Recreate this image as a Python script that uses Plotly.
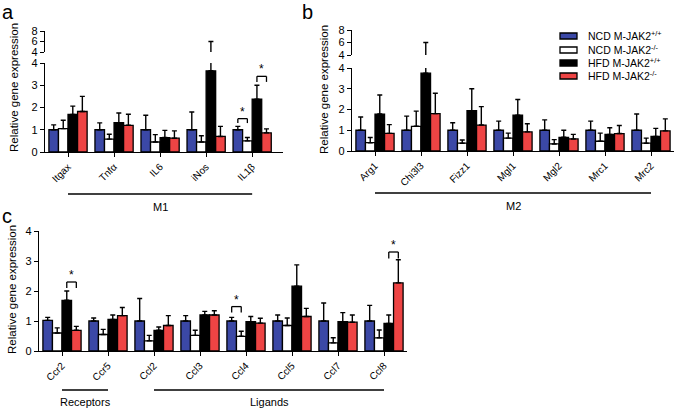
import plotly.graph_objects as go

W, H = 675, 408
FONT = "Liberation Sans, Arial, Helvetica, sans-serif"

series_names = ["NCD M-JAK2<sup>+/+</sup>", "NCD M-JAK2<sup>-/-</sup>",
                "HFD M-JAK2<sup>+/+</sup>", "HFD M-JAK2<sup>-/-</sup>"]
series_colors = ["#3b48a6", "#ffffff", "#000000", "#ee4444"]

# Panel a (M1)
a_cats = ["Itgax", "Tnfα", "IL6", "iNos", "IL1β"]
a_ncd_wt = [1.0, 1.0, 1.0, 1.0, 1.0]
a_ncd_wt_sem = [0.22, 0.31, 0.65, 0.8, 0.15]
a_ncd_ko = [1.05, 0.58, 0.45, 0.45, 0.5]
a_ncd_ko_sem = [0.38, 0.22, 0.33, 0.28, 0.15]
a_hfd_wt = [1.69, 1.32, 0.65, 3.65, 2.37]
a_hfd_wt_sem = [0.37, 0.43, 0.32, 2.35, 0.63]
a_hfd_ko = [1.82, 1.2, 0.62, 0.7, 0.86]
a_hfd_ko_sem = [0.68, 0.5, 0.33, 0.45, 0.18]

# Panel b (M2)
b_cats = ["Arg1", "Chi3l3", "Fizz1", "Mgl1", "Mgl2", "Mrc1", "Mrc2"]
b_ncd_wt = [1.0, 1.0, 1.0, 1.0, 1.0, 1.0, 1.0]
b_ncd_wt_sem = [0.64, 0.68, 0.36, 0.44, 0.5, 0.44, 0.78]
b_ncd_ko = [0.4, 1.19, 0.375, 0.62, 0.34, 0.47, 0.375]
b_ncd_ko_sem = [0.25, 0.73, 0.155, 0.24, 0.21, 0.39, 0.245]
b_hfd_wt = [1.78, 3.75, 1.94, 1.73, 0.66, 0.8, 0.7]
b_hfd_wt_sem = [0.92, 2.25, 1.06, 0.75, 0.34, 0.32, 0.39]
b_hfd_ko = [0.85, 1.8, 1.25, 0.92, 0.58, 0.84, 0.97]
b_hfd_ko_sem = [0.42, 0.98, 0.89, 0.39, 0.22, 0.39, 0.58]

# Panel c (chemokines)
c_cats = ["Ccr2", "Ccr5", "Ccl2", "Ccl3", "Ccl4", "Ccl5", "Ccl7", "Ccl8"]
c_ncd_wt = [1.02, 1.0, 1.0, 1.0, 1.0, 1.0, 1.0, 1.0]
c_ncd_wt_sem = [0.1, 0.1, 0.75, 0.18, 0.12, 0.2, 0.6, 0.52]
c_ncd_ko = [0.6, 0.55, 0.34, 0.52, 0.49, 0.85, 0.27, 0.44]
c_ncd_ko_sem = [0.17, 0.17, 0.18, 0.17, 0.17, 0.25, 0.17, 0.26]
c_hfd_wt = [1.69, 1.05, 0.69, 1.2, 0.98, 2.16, 0.98, 0.92]
c_hfd_wt_sem = [0.31, 0.15, 0.11, 0.12, 0.17, 0.71, 0.3, 0.28]
c_hfd_ko = [0.69, 1.18, 0.85, 1.2, 0.93, 1.15, 0.96, 2.27]
c_hfd_ko_sem = [0.13, 0.27, 0.33, 0.14, 0.16, 0.27, 0.24, 0.77]

# significance brackets: (category index, series i, series j, top, leg bottom)
a_sig = [(4, 0, 1, 1.5, 1.3), (4, 2, 3, 3.4, 3.15)]
c_sig = [(0, 2, 3, 2.3, 2.1), (4, 0, 1, 1.48, 1.28), (7, 2, 3, 3.3, 3.08)]

# group labels: (text, first index, last index)
a_groups = [("M1", 0, 4)]
b_groups = [("M2", 0, 6)]
c_groups = [("Receptors", 0, 1), ("Ligands", 2, 7)]

BARGAP = 0.17


def px_x(p):
    return p / W


def px_y(p):
    return 1 - p / H


fig = go.Figure()
shapes = []
annotations = []


def add_bars(vals, sems, cats, xa, ya):
    for k in range(4):
        fig.add_trace(go.Bar(
            x=list(range(len(cats))), y=vals[k], name=series_names[k],
            marker=dict(color=series_colors[k], line=dict(color="black", width=1.3)),
            error_y=dict(type="data", symmetric=False, array=sems[k],
                         arrayminus=[0] * len(cats), color="black",
                         thickness=1.4, width=2.5),
            xaxis=xa, yaxis=ya, showlegend=False, hoverinfo="skip"))


def yaxis_style(rng, tickvals, dom, anchor):
    return dict(domain=dom, range=rng, tickvals=tickvals, showline=True,
                linecolor="black", linewidth=1.2, ticks="outside", ticklen=4,
                tickwidth=1.2, tickcolor="black", showgrid=False, zeroline=False,
                anchor=anchor, automargin=False, fixedrange=True,
                tickfont=dict(size=11, color="black", family=FONT))


def xaxis_style(cats, dom, anchor, right_pad=0.5, labels=True):
    n = len(cats)
    return dict(domain=dom, range=[-0.5, n - 1 + right_pad],
                tickvals=list(range(n)) if labels else [],
                ticktext=cats if labels else [], tickangle=-45,
                showline=labels, linecolor="black",
                linewidth=1.2, ticks="outside" if labels else "", ticklen=4,
                tickwidth=1.2, tickcolor="black", showgrid=False, zeroline=False,
                showticklabels=labels, anchor=anchor, automargin=False,
                fixedrange=True,
                tickfont=dict(size=10, color="black", family=FONT))


def text_ann(x, y, text, size, xref="paper", yref="paper", **kw):
    d = dict(x=x, y=y, xref=xref, yref=yref, text=text, showarrow=False,
             xanchor="center", yanchor="middle",
             font=dict(size=size, color="black", family=FONT))
    d.update(kw)
    annotations.append(d)


def add_sig(sigs, xref, yref):
    w = (1 - BARGAP) / 4
    for ci, i, j, top, leg in sigs:
        x1 = ci + (i - 1.5) * w
        x2 = ci + (j - 1.5) * w
        for (xa, ya, xb, yb) in [(x1, leg, x1, top), (x1, top, x2, top), (x2, top, x2, leg)]:
            shapes.append(dict(type="line", xref=xref, yref=yref, x0=xa, y0=ya,
                               x1=xb, y1=yb, line=dict(color="black", width=1.3)))
        text_ann((x1 + x2) / 2, top, "*", 12, xref=xref, yref=yref,
                 yanchor="bottom", yshift=-2)


def add_groups(groups, xref, line_py, text_py):
    for text, i0, i1 in groups:
        shapes.append(dict(type="line", xref=xref, yref="paper", x0=i0, x1=i1,
                           y0=px_y(line_py), y1=px_y(line_py),
                           line=dict(color="black", width=1.3)))
        text_ann((i0 + i1) / 2, px_y(text_py), text, 11, xref=xref)


a_vals = [a_ncd_wt, a_ncd_ko, a_hfd_wt, a_hfd_ko]
a_sems = [a_ncd_wt_sem, a_ncd_ko_sem, a_hfd_wt_sem, a_hfd_ko_sem]
add_bars(a_vals, a_sems, a_cats, "x", "y")
add_bars(a_vals, a_sems, a_cats, "x2", "y2")
b_vals = [b_ncd_wt, b_ncd_ko, b_hfd_wt, b_hfd_ko]
b_sems = [b_ncd_wt_sem, b_ncd_ko_sem, b_hfd_wt_sem, b_hfd_ko_sem]
add_bars(b_vals, b_sems, b_cats, "x3", "y3")
add_bars(b_vals, b_sems, b_cats, "x4", "y4")
c_vals = [c_ncd_wt, c_ncd_ko, c_hfd_wt, c_hfd_ko]
c_sems = [c_ncd_wt_sem, c_ncd_ko_sem, c_hfd_wt_sem, c_hfd_ko_sem]
add_bars(c_vals, c_sems, c_cats, "x5", "y5")

a_xdom = [px_x(45), px_x(283)]
b_xdom = [px_x(352), px_x(674)]
c_xdom = [px_x(39), px_x(407)]

add_sig(a_sig, "x", "y")
add_sig(c_sig, "x5", "y5")
add_groups(a_groups, "x", 194, 207)
add_groups(b_groups, "x3", 193, 206)
add_groups(c_groups, "x5", 390, 402)

for xp, yp in [(14, 88), (324, 90), (12, 290)]:
    text_ann(px_x(xp), px_y(yp), "Relative gene expression", 11.5, textangle=-90)
for txt, xp, yp in [("a", 8, 12), ("b", 307, 12), ("c", 7, 216)]:
    text_ann(px_x(xp), px_y(yp), txt, 20)

for k, ypx in enumerate([36, 50, 63, 76]):
    shapes.append(dict(type="rect", xref="paper", yref="paper",
                       x0=px_x(560), x1=px_x(577), y0=px_y(ypx + 3), y1=px_y(ypx - 3),
                       fillcolor=series_colors[k], line=dict(color="black", width=1.3)))
    text_ann(px_x(586), px_y(ypx), series_names[k], 10.5, xanchor="left", yshift=1)

fig.update_layout(
    template="none",
    width=W, height=H, margin=dict(l=0, r=0, t=0, b=0, autoexpand=False),
    paper_bgcolor="white", plot_bgcolor="white", showlegend=False,
    barmode="group", bargap=BARGAP, bargroupgap=0,
    font=dict(family=FONT, color="black"),
    xaxis=xaxis_style(a_cats, a_xdom, "y", right_pad=0.67),
    yaxis=yaxis_style([0, 4], [0, 1, 2, 3, 4], [px_y(152), px_y(63)], "x"),
    xaxis2=xaxis_style(a_cats, a_xdom, "y2", right_pad=0.67, labels=False),
    yaxis2=yaxis_style([4, 8], [4, 6, 8], [px_y(52), px_y(31)], "x2"),
    xaxis3=xaxis_style(b_cats, b_xdom, "y3"),
    yaxis3=yaxis_style([0, 4], [0, 1, 2, 3, 4], [px_y(151), px_y(68)], "x3"),
    xaxis4=xaxis_style(b_cats, b_xdom, "y4", labels=False),
    yaxis4=yaxis_style([4, 8], [4, 6, 8], [px_y(55), px_y(30)], "x4"),
    xaxis5=xaxis_style(c_cats, c_xdom, "y5"),
    yaxis5=yaxis_style([0, 4], [0, 1, 2, 3, 4], [px_y(351), px_y(231)], "x5"),
    shapes=shapes, annotations=annotations,
)

fig.write_html("out.html", config={"displayModeBar": False},
               post_script="document.body.style.margin='0';document.body.style.overflow='hidden';")
